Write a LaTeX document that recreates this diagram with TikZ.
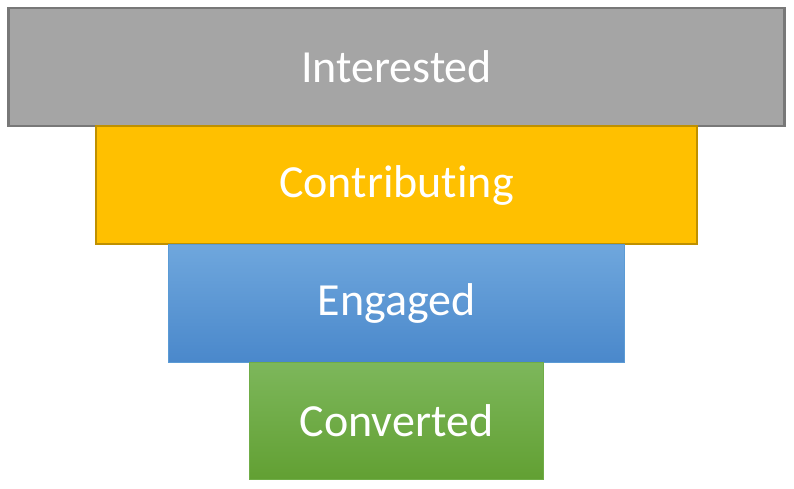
\documentclass[tikz,border=0pt]{standalone}
\usepackage{fontspec}
\setmainfont{Carlito}[Ligatures=NoCommon]
\usetikzlibrary{positioning}
\definecolor{grayfill}{HTML}{A5A5A5}
\definecolor{grayline}{HTML}{787878}
\definecolor{goldfill}{HTML}{FFC000}
\definecolor{goldline}{HTML}{BF9000}
\definecolor{bluetop}{HTML}{6FA7DD}
\definecolor{bluebot}{HTML}{4A88CB}
\definecolor{blueline}{HTML}{5B9BD5}
\definecolor{greentop}{HTML}{7DB75B}
\definecolor{greenbot}{HTML}{62A033}
\definecolor{greenline}{HTML}{70AD47}
\tikzset{
  stage/.style={rectangle, inner sep=0pt, outer sep=0pt, minimum height=118pt,
    text=white, font=\fontsize{46}{55}\selectfont}
}
\begin{document}
\begin{tikzpicture}[x=1pt,y=-1pt]
\useasboundingbox (0,0) rectangle (794,488);

\node [stage, draw=grayline, line width=2.2pt, fill=grayfill, minimum width=776pt] (interested) at (396.5,67) {Interested};
\node [stage, draw=goldline, line width=2.2pt, fill=goldfill, minimum width=601pt, below=0pt of interested] (contributing) {Contributing};
\node [stage, draw=blueline, line width=1pt, top color=bluetop, bottom color=bluebot, minimum width=456pt, below=0pt of contributing] (engaged) {Engaged};
\node [stage, draw=greenline, line width=1pt, top color=greentop, bottom color=greenbot, minimum width=294pt, minimum height=117pt, below=0pt of engaged] (converted) {Converted};

\end{tikzpicture}
\end{document}
